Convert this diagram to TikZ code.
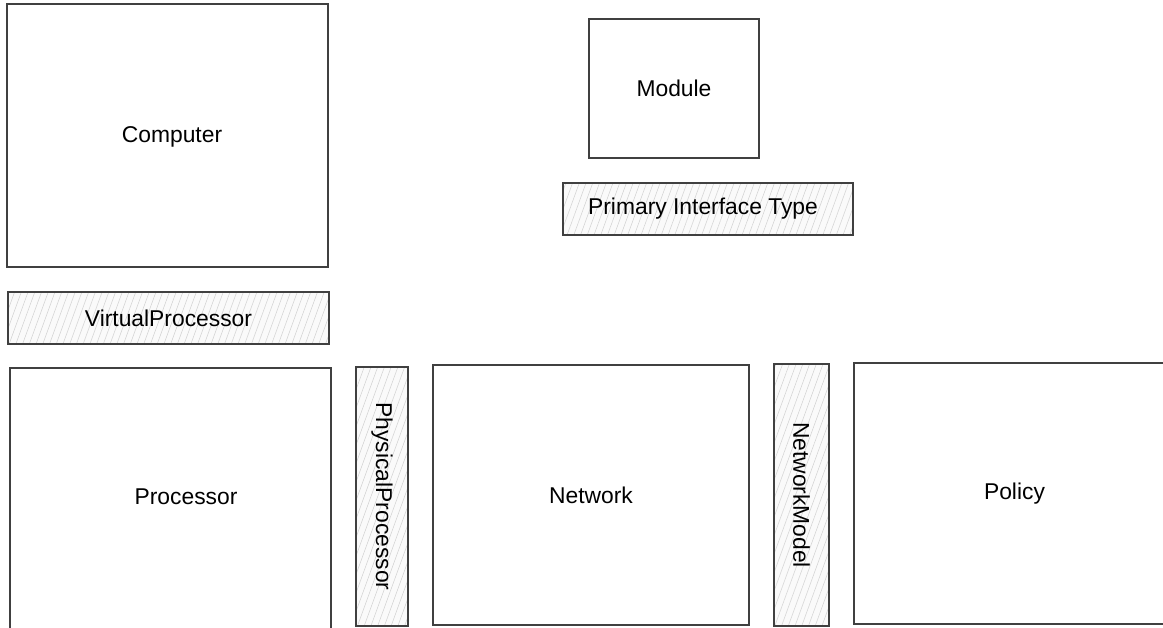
\documentclass[tikz,border=0pt]{standalone}
\usepackage{fontspec}
\setmainfont{Liberation Sans}
\usetikzlibrary{patterns.meta}
\begin{document}
\begin{tikzpicture}[x=0.02cm, y=-0.02cm,
	boite/.style={draw=black!75, line width=0.8pt, inner sep=0pt},
	hachure/.style={boite, preaction={fill=gray!4},
		pattern={Lines[angle=70, distance=3.6pt, line width=0.3pt]}, pattern color=gray!35},
	every node/.style={font=\fontsize{13}{15}\selectfont}]
	\useasboundingbox (0,0) rectangle (1163,628);
	
	% Boites principales
	\node[boite, minimum width=6.42cm, minimum height=5.26cm] (computer) at (167.5,135.5) {};
	\node (computertexte) at (172,137) {Computer};
	\node[boite, minimum width=3.40cm, minimum height=2.78cm] (module) at (674,88.5) {Module};
	\node[boite, minimum width=6.42cm, minimum height=5.36cm] (processor) at (170.5,502) {};
	\node (processortexte) at (186,497) {Processor};
	\node[boite, minimum width=6.32cm, minimum height=5.20cm] (network) at (591,495) {Network};
	\node[boite, minimum width=6.42cm, minimum height=5.22cm] (policy) at (1014.5,493.5) {Policy};
	
	% Boites hachurees
	\node[hachure, minimum width=5.80cm, minimum height=1.04cm] (interface) at (708,209) {};
	\node (interfacetexte) at (703,209) {Primary Interface Type};
	\node[hachure, minimum width=6.42cm, minimum height=1.04cm] (virtualprocessor) at (168.5,318) {VirtualProcessor};
	\node[hachure, minimum width=5.18cm, minimum height=1.04cm, rotate=-90] (physicalprocessor) at (382,496.5) {PhysicalProcessor};
	\node[hachure, minimum width=5.24cm, minimum height=1.10cm, rotate=-90] (networkmodel) at (801.5,495) {NetworkModel};
\end{tikzpicture}
\end{document}
